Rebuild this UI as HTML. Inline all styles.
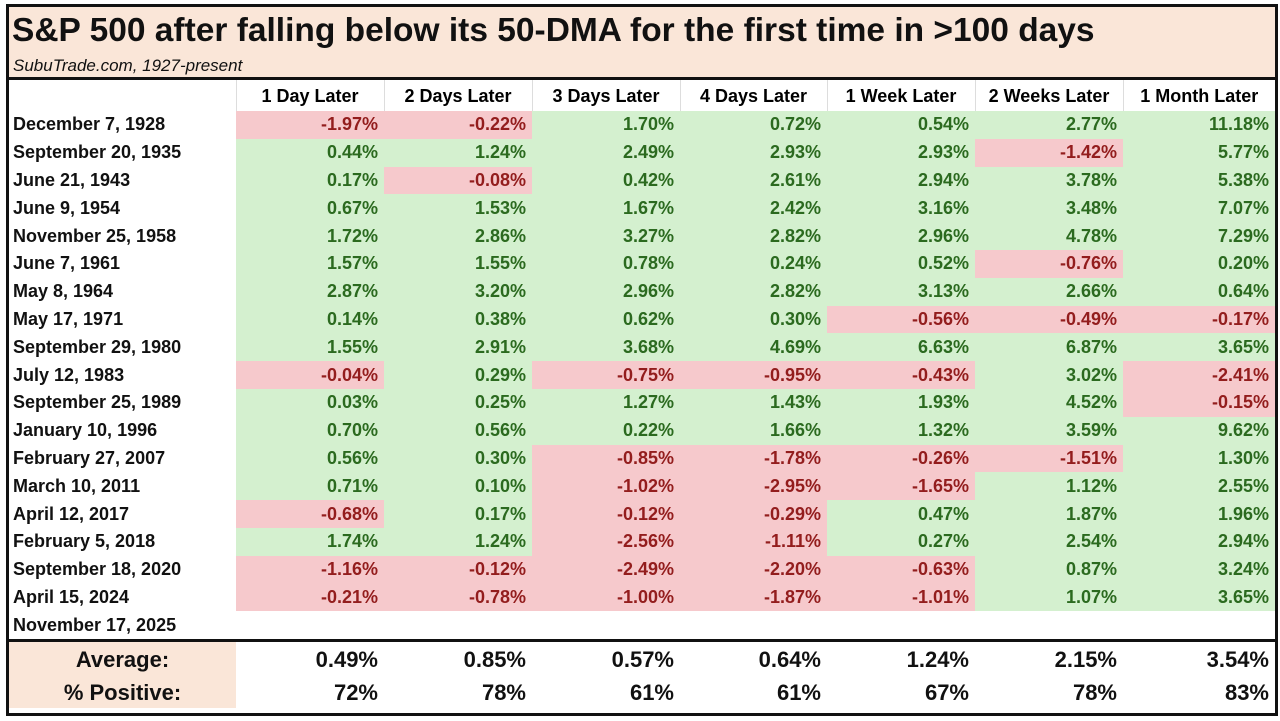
<!DOCTYPE html>
<html><head><meta charset="utf-8"><style>
body{margin:0;width:1280px;height:721px;background:#fff;position:relative;overflow:hidden;font-family:"Liberation Sans",Arial,sans-serif;}
#frame{position:absolute;left:6px;top:4px;width:1266px;height:706px;border:3px solid #111;background:#fff;overflow:hidden;}
#title{position:absolute;left:0;top:0;width:1266px;height:70px;background:#fae6d8;border-bottom:3px solid #111;}
#title .t{position:absolute;left:3px;top:5px;font-size:33.5px;font-weight:bold;color:#111;white-space:nowrap;}
#title .s{position:absolute;left:4px;top:49px;font-size:17px;font-style:italic;color:#111;}
table{position:absolute;left:0;top:73px;border-collapse:collapse;table-layout:fixed;}
td{padding:0 6px 0 0;font-weight:bold;font-size:18px;text-align:right;white-space:nowrap;}
tr.h td{height:29px;text-align:center;padding:0;border-left:1px solid #ddd;vertical-align:middle;padding-top:2px;}
tr.h td:first-child{border-left:none}
tr.r td{height:27.8px;}
tr.r td:first-child{text-align:left;padding-left:4px;color:#111;}
.g{background:#d4f0cf;color:#2b6a1f}
.p{background:#f6c9cc;color:#931d1d}
tr.sep td{height:0;border-top:3px solid #111;padding:0}
tr.s td{height:31px;font-size:22px;color:#111;padding-right:6px;padding-top:2px}
tr.s td:first-child{background:#fae6d8;text-align:center;padding:2px 0 0 0}
</style></head><body>
<div id="frame">
<div id="title"><div class="t">S&amp;P 500 after falling below its 50-DMA for the first time in &gt;100 days</div><div class="s">SubuTrade.com, 1927-present</div></div>
<table>
<colgroup><col style="width:227px"><col style="width:148px"><col style="width:148px"><col style="width:148px"><col style="width:147px"><col style="width:148px"><col style="width:148px"><col style="width:152px"></colgroup>
<tr class="h"><td></td><td>1 Day Later</td><td>2 Days Later</td><td>3 Days Later</td><td>4 Days Later</td><td>1 Week Later</td><td>2 Weeks Later</td><td>1 Month Later</td></tr>
<tr class="r"><td>December 7, 1928</td><td class="p">-1.97%</td><td class="p">-0.22%</td><td class="g">1.70%</td><td class="g">0.72%</td><td class="g">0.54%</td><td class="g">2.77%</td><td class="g">11.18%</td></tr>
<tr class="r"><td>September 20, 1935</td><td class="g">0.44%</td><td class="g">1.24%</td><td class="g">2.49%</td><td class="g">2.93%</td><td class="g">2.93%</td><td class="p">-1.42%</td><td class="g">5.77%</td></tr>
<tr class="r"><td>June 21, 1943</td><td class="g">0.17%</td><td class="p">-0.08%</td><td class="g">0.42%</td><td class="g">2.61%</td><td class="g">2.94%</td><td class="g">3.78%</td><td class="g">5.38%</td></tr>
<tr class="r"><td>June 9, 1954</td><td class="g">0.67%</td><td class="g">1.53%</td><td class="g">1.67%</td><td class="g">2.42%</td><td class="g">3.16%</td><td class="g">3.48%</td><td class="g">7.07%</td></tr>
<tr class="r"><td>November 25, 1958</td><td class="g">1.72%</td><td class="g">2.86%</td><td class="g">3.27%</td><td class="g">2.82%</td><td class="g">2.96%</td><td class="g">4.78%</td><td class="g">7.29%</td></tr>
<tr class="r"><td>June 7, 1961</td><td class="g">1.57%</td><td class="g">1.55%</td><td class="g">0.78%</td><td class="g">0.24%</td><td class="g">0.52%</td><td class="p">-0.76%</td><td class="g">0.20%</td></tr>
<tr class="r"><td>May 8, 1964</td><td class="g">2.87%</td><td class="g">3.20%</td><td class="g">2.96%</td><td class="g">2.82%</td><td class="g">3.13%</td><td class="g">2.66%</td><td class="g">0.64%</td></tr>
<tr class="r"><td>May 17, 1971</td><td class="g">0.14%</td><td class="g">0.38%</td><td class="g">0.62%</td><td class="g">0.30%</td><td class="p">-0.56%</td><td class="p">-0.49%</td><td class="p">-0.17%</td></tr>
<tr class="r"><td>September 29, 1980</td><td class="g">1.55%</td><td class="g">2.91%</td><td class="g">3.68%</td><td class="g">4.69%</td><td class="g">6.63%</td><td class="g">6.87%</td><td class="g">3.65%</td></tr>
<tr class="r"><td>July 12, 1983</td><td class="p">-0.04%</td><td class="g">0.29%</td><td class="p">-0.75%</td><td class="p">-0.95%</td><td class="p">-0.43%</td><td class="g">3.02%</td><td class="p">-2.41%</td></tr>
<tr class="r"><td>September 25, 1989</td><td class="g">0.03%</td><td class="g">0.25%</td><td class="g">1.27%</td><td class="g">1.43%</td><td class="g">1.93%</td><td class="g">4.52%</td><td class="p">-0.15%</td></tr>
<tr class="r"><td>January 10, 1996</td><td class="g">0.70%</td><td class="g">0.56%</td><td class="g">0.22%</td><td class="g">1.66%</td><td class="g">1.32%</td><td class="g">3.59%</td><td class="g">9.62%</td></tr>
<tr class="r"><td>February 27, 2007</td><td class="g">0.56%</td><td class="g">0.30%</td><td class="p">-0.85%</td><td class="p">-1.78%</td><td class="p">-0.26%</td><td class="p">-1.51%</td><td class="g">1.30%</td></tr>
<tr class="r"><td>March 10, 2011</td><td class="g">0.71%</td><td class="g">0.10%</td><td class="p">-1.02%</td><td class="p">-2.95%</td><td class="p">-1.65%</td><td class="g">1.12%</td><td class="g">2.55%</td></tr>
<tr class="r"><td>April 12, 2017</td><td class="p">-0.68%</td><td class="g">0.17%</td><td class="p">-0.12%</td><td class="p">-0.29%</td><td class="g">0.47%</td><td class="g">1.87%</td><td class="g">1.96%</td></tr>
<tr class="r"><td>February 5, 2018</td><td class="g">1.74%</td><td class="g">1.24%</td><td class="p">-2.56%</td><td class="p">-1.11%</td><td class="g">0.27%</td><td class="g">2.54%</td><td class="g">2.94%</td></tr>
<tr class="r"><td>September 18, 2020</td><td class="p">-1.16%</td><td class="p">-0.12%</td><td class="p">-2.49%</td><td class="p">-2.20%</td><td class="p">-0.63%</td><td class="g">0.87%</td><td class="g">3.24%</td></tr>
<tr class="r"><td>April 15, 2024</td><td class="p">-0.21%</td><td class="p">-0.78%</td><td class="p">-1.00%</td><td class="p">-1.87%</td><td class="p">-1.01%</td><td class="g">1.07%</td><td class="g">3.65%</td></tr>
<tr class="r"><td>November 17, 2025</td><td></td><td></td><td></td><td></td><td></td><td></td><td></td></tr>
<tr class="sep"><td></td><td></td><td></td><td></td><td></td><td></td><td></td><td></td></tr>
<tr class="s"><td>Average:</td><td>0.49%</td><td>0.85%</td><td>0.57%</td><td>0.64%</td><td>1.24%</td><td>2.15%</td><td>3.54%</td></tr>
<tr class="s"><td>% Positive:</td><td>72%</td><td>78%</td><td>61%</td><td>61%</td><td>67%</td><td>78%</td><td>83%</td></tr>
</table>
</div>
</body></html>
